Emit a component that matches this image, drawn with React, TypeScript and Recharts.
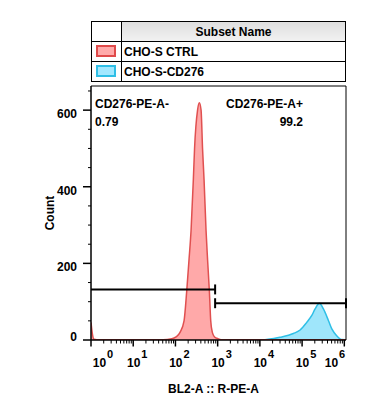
import React from 'react';
import { ComposedChart, Area, XAxis, YAxis, ReferenceLine, ReferenceArea } from 'recharts';

// x values are log10 of BL2-A :: R-PE-A intensity (decade position on the axis)
const ctrlLog = [0, 0.03, 0.07, 0.2, 1.0, 1.706, 1.912, 2.014, 2.109, 2.204, 2.268, 2.322, 2.37, 2.424, 2.453, 2.524, 2.566, 2.607, 2.642, 2.678, 2.725, 2.761, 2.803, 2.836, 2.874, 2.927, 3.017, 3.128, 4.0, 5.0, 6.04];
const ctrlCount = [46, 18, 2, 0.5, 0.5, 0.5, 3, 8, 20, 50, 129, 210, 286, 418, 500, 600, 619, 600, 500, 418, 286, 210, 129, 50, 20, 8, 3, 0.5, 0.5, 0.5, 0.5];

const cd276Log = [4.123, 4.479, 4.794, 4.953, 5.111, 5.23, 5.308, 5.41, 5.505, 5.623, 5.704, 5.822, 5.941, 6.019];
const cd276Count = [0.5, 7, 17, 26, 46, 64, 81, 96, 81, 51, 29, 11, 1, 0.5];

const decades = [0, 1, 2, 3, 4, 5, 6];
const minorSteps = [2, 3, 4, 5, 6, 7, 8, 9];
const countTicks = [0, 50, 100, 150, 200, 250, 300, 350, 400, 450, 500, 550, 600, 650];
const countLabels = [0, 200, 400, 600];

const legendRows = [
  { name: 'CHO-S CTRL', fill: '#ffaaaa', stroke: '#e04a4a' },
  { name: 'CHO-S-CD276', fill: '#a2e8ff', stroke: '#2fbfe6' },
];

// gates: [start, end] in decades, height in counts
const negGate = { x1: 0, x2: 2.94, y: 132, label: 'CD276-PE-A-', pct: '0.79' };
const posGate = { x1: 2.94, x2: 6.04, y: 96, label: 'CD276-PE-A+', pct: '99.2' };

const ctrlData = ctrlLog.map((d, i) => ({ d, count: ctrlCount[i] }));
const cd276Data = cd276Log.map((d, i) => ({ d, count: cd276Count[i] }));

const xTicks: number[] = [];
decades.forEach((n) => {
  xTicks.push(n);
  if (n < 6) minorSteps.forEach((k) => xTicks.push(n + Math.log10(k)));
});

const FONT = '"Liberation Sans", Arial, sans-serif';

const XTick = ({ x, y, payload }: any) => {
  const v = payload.value;
  const major = decades.includes(v);
  if (!major) {
    return <line x1={x} x2={x} y1={y} y2={y + 3.5} stroke="#000" />;
  }
  const cx = Math.min(Math.max(x + 4, 103), 335);
  return (
    <g>
      <line x1={x} x2={x} y1={y} y2={y + 6.5} stroke="#000" strokeWidth={1.5} />
      <text x={cx} y={367} textAnchor="middle" fontFamily={FONT} fontWeight={700} fontSize={12} fill="#000">
        <tspan>10</tspan>
        <tspan dx={1} dy={-9} fontSize={11}>{v}</tspan>
      </text>
    </g>
  );
};

const YTick = ({ x, y, payload }: any) => {
  const v = payload.value;
  const major = countLabels.includes(v);
  return (
    <g>
      <line x1={x - (major ? 8 : 3)} x2={x} y1={y} y2={y} stroke="#000" strokeWidth={major ? 1.5 : 1} />
      {major && (
        <text x={x - 14} y={v === 0 ? y + 1 : y + 8} textAnchor="end" fontFamily={FONT} fontWeight={700} fontSize={12} fill="#000">
          {v}
        </text>
      )}
    </g>
  );
};

const capH = 13;

export default function App() {
  return (
    <div style={{ position: 'absolute', left: 0, top: 0, width: 367, height: 413, background: '#fff' }}>
      <ComposedChart width={367} height={413} margin={{ top: 86, right: 21, left: 41, bottom: 33 }}>
        <XAxis
          dataKey="d"
          type="number"
          domain={[0, 6.04]}
          ticks={xTicks}
          interval={0}
          tick={<XTick />}
          tickSize={0}
          tickMargin={0}
          tickLine={false}
          axisLine={{ stroke: '#000' }}
          height={40}
          allowDataOverflow
        />
        <YAxis
          type="number"
          domain={[0, 663]}
          ticks={countTicks}
          interval={0}
          tick={<YTick />}
          tickSize={0}
          tickMargin={0}
          tickLine={false}
          axisLine={{ stroke: '#000' }}
          width={50}
          allowDataOverflow
        />
        <Area
          data={cd276Data}
          dataKey="count"
          type="monotone"
          stroke="#2fbfe6"
          strokeWidth={1.5}
          fill="#9fe6fb"
          fillOpacity={1}
          isAnimationActive={false}
          dot={false}
          activeDot={false}
        />
        <Area
          data={ctrlData}
          dataKey="count"
          type="monotone"
          stroke="#e05050"
          strokeWidth={1.5}
          fill="#ffa9a9"
          fillOpacity={1}
          isAnimationActive={false}
          dot={false}
          activeDot={false}
        />
        <ReferenceArea x1={0} x2={6.04} y1={0} y2={663} fill="none" stroke="#000" strokeWidth={1} ifOverflow="extendDomain" />
        <ReferenceLine segment={[{ x: negGate.x1, y: negGate.y }, { x: negGate.x2, y: negGate.y }]} stroke="#000" strokeWidth={2} />
        <ReferenceLine segment={[{ x: negGate.x2, y: negGate.y - capH }, { x: negGate.x2, y: negGate.y + capH }]} stroke="#000" strokeWidth={2} />
        <ReferenceLine segment={[{ x: posGate.x1, y: posGate.y }, { x: posGate.x2, y: posGate.y }]} stroke="#000" strokeWidth={2} />
        <ReferenceLine segment={[{ x: posGate.x1, y: posGate.y - capH }, { x: posGate.x1, y: posGate.y + capH }]} stroke="#000" strokeWidth={2} />
        <ReferenceLine segment={[{ x: posGate.x2, y: posGate.y - capH }, { x: posGate.x2, y: posGate.y + capH }]} stroke="#000" strokeWidth={2} />
      </ComposedChart>
      <svg width={367} height={413} style={{ position: 'absolute', left: 0, top: 0, pointerEvents: 'none' }}>
        <defs>
          <linearGradient id="hdr" x1="0" y1="0" x2="0" y2="1">
            <stop offset="0%" stopColor="#dedede" />
            <stop offset="100%" stopColor="#f2f2f2" />
          </linearGradient>
        </defs>
        <rect x={121.5} y={21.5} width={224} height={20} fill="url(#hdr)" />
        <rect x={91.5} y={21.5} width={254} height={60} fill="none" stroke="#000" />
        <line x1={91.5} x2={345.5} y1={41.5} y2={41.5} stroke="#000" />
        <line x1={91.5} x2={345.5} y1={61.5} y2={61.5} stroke="#000" />
        <line x1={121.5} x2={121.5} y1={21.5} y2={81.5} stroke="#000" />
        <text x={233.5} y={35.5} textAnchor="middle" fontFamily={FONT} fontWeight={700} fontSize={12}>Subset Name</text>
        {legendRows.map((r, i) => (
          <g key={r.name}>
            <rect x={97} y={46 + i * 20} width={18} height={10} fill={r.fill} stroke={r.stroke} strokeWidth={2} />
            <text x={124} y={56 + i * 20} fontFamily={FONT} fontWeight={700} fontSize={12}>{r.name}</text>
          </g>
        ))}
        <text x={95} y={108} fontFamily={FONT} fontWeight={700} fontSize={12}>{negGate.label}</text>
        <text x={95} y={126} fontFamily={FONT} fontWeight={700} fontSize={12}>{negGate.pct}</text>
        <text x={303} y={108} textAnchor="end" fontFamily={FONT} fontWeight={700} fontSize={12}>{posGate.label}</text>
        <text x={303} y={126} textAnchor="end" fontFamily={FONT} fontWeight={700} fontSize={12}>{posGate.pct}</text>
        <text x={54} y={213} transform="rotate(-90 54 213)" textAnchor="middle" fontFamily={FONT} fontWeight={700} fontSize={12}>Count</text>
        <text x={213.5} y={393} textAnchor="middle" fontFamily={FONT} fontWeight={700} fontSize={12}>BL2-A :: R-PE-A</text>
      </svg>
    </div>
  );
}
